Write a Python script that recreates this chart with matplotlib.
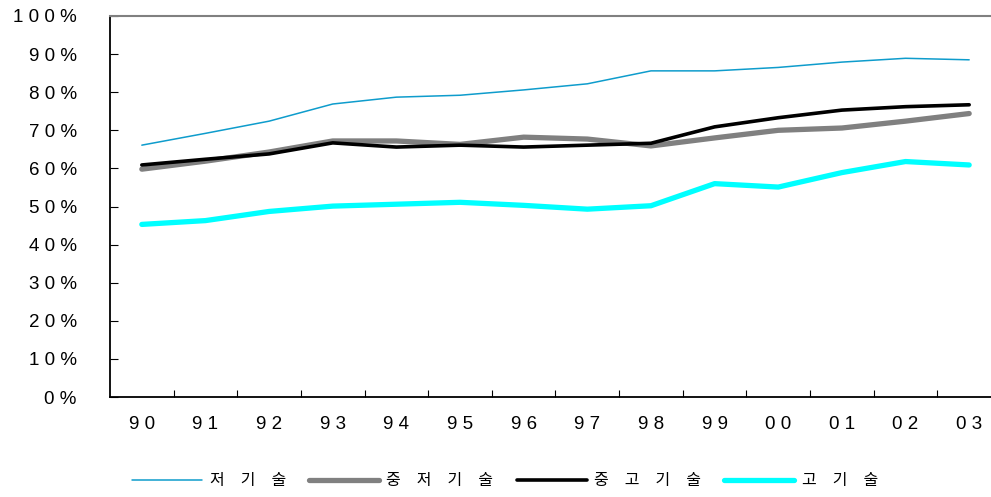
import matplotlib
matplotlib.use("Agg")
import matplotlib.pyplot as plt
from matplotlib.ticker import FixedLocator, NullFormatter

plt.rcParams['font.family'] = ['Liberation Sans', 'Noto Sans CJK KR', 'DejaVu Sans']

years = ["90", "91", "92", "93", "94", "95", "96", "97", "98", "99", "00", "01", "02", "03"]
low_tech = [66.1, 69.2, 72.4, 76.9, 78.7, 79.2, 80.6, 82.2, 85.6, 85.6, 86.5, 87.9, 88.9, 88.5]
mid_low_tech = [59.8, 61.9, 64.3, 67.2, 67.2, 66.3, 68.2, 67.7, 65.9, 68.0, 70.0, 70.6, 72.4, 74.4]
mid_high_tech = [60.9, 62.4, 63.8, 66.7, 65.6, 66.1, 65.6, 66.1, 66.6, 70.9, 73.3, 75.3, 76.2, 76.7]
high_tech = [45.3, 46.3, 48.7, 50.1, 50.6, 51.1, 50.3, 49.3, 50.2, 56.0, 55.1, 58.9, 61.8, 60.9]
labels = ["저기술", "중저기술", "중고기술", "고기술"]
yticks = list(range(0, 101, 10))

def spaced(s, sep=" "):
    return sep.join(s)

W, H = 991, 497
fig = plt.figure(figsize=(W / 100, H / 100), dpi=100)
ax = fig.add_axes([110 / W, 1 - 397 / H, (1001 - 110) / W, (397 - 16) / H])

x = list(range(len(years)))
ax.plot(x, low_tech, color="#0e9ccc", lw=1.1, label=spaced(labels[0], "\u3000"), solid_capstyle="round")
ax.plot(x, mid_low_tech, color="#808080", lw=3.8, label=spaced(labels[1], "\u3000"), solid_capstyle="round")
ax.plot(x, mid_high_tech, color="#000000", lw=2.6, label=spaced(labels[2], "\u3000"), solid_capstyle="round")
ax.plot(x, high_tech, color="#00ffff", lw=3.8, label=spaced(labels[3], "\u3000"), solid_capstyle="round")

ax.set_xlim(-0.5, len(years) - 0.5)
ax.set_ylim(0, 100)
ax.set_yticks(yticks)
ax.set_yticklabels([spaced(f"{v}%") for v in yticks], fontsize=13.5)
ax.xaxis.set_major_locator(FixedLocator([i + 0.5 for i in range(len(years) - 1)]))
ax.xaxis.set_major_formatter(NullFormatter())
ax.xaxis.set_minor_locator(FixedLocator(x))
ax.set_xticklabels([spaced(y) for y in years], minor=True, fontsize=13.5)
ax.tick_params(axis="x", which="minor", length=0, pad=14)
ax.tick_params(axis="x", which="major", direction="in", length=5, width=0.8)
ax.tick_params(axis="y", direction="in", length=6, width=0.8, pad=24)

ax.spines["left"].set_color("black")
ax.spines["left"].set_linewidth(1.3)
ax.spines["bottom"].set_color("black")
ax.spines["bottom"].set_linewidth(1.3)
ax.spines["top"].set_color("#808080")
ax.spines["top"].set_linewidth(1.5)
ax.spines["right"].set_visible(False)

leg = fig.legend(loc="center", bbox_to_anchor=(505 / W, 1 - 481 / H), ncol=4, frameon=False,
                 handlelength=4.4, handletextpad=0.45, columnspacing=1.45,
                 prop={"family": ["Noto Sans CJK KR", "DejaVu Sans"], "size": 11.5})

fig.savefig("out.png", dpi=100)
